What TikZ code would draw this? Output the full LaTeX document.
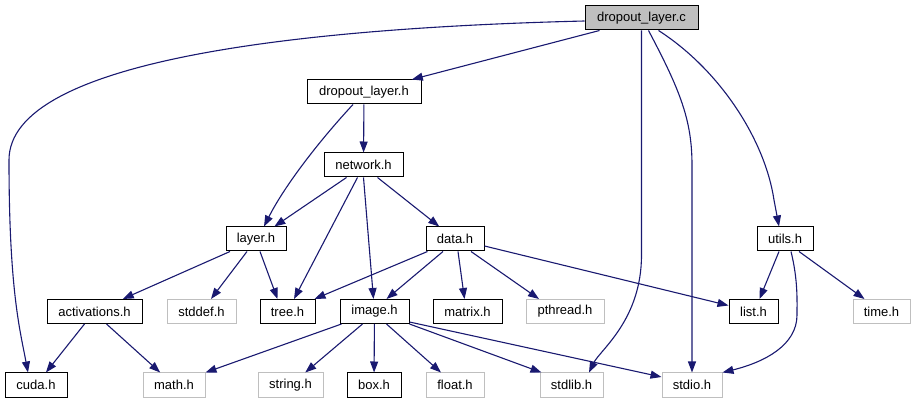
\documentclass[tikz,border=0pt]{standalone}
\usepackage{fontspec}
\setmainfont{Liberation Sans}
\usetikzlibrary{arrows.meta}
\definecolor{edgec}{HTML}{191970}
\definecolor{sysgray}{HTML}{BFBFBF}
\definecolor{rootfill}{HTML}{BFBFBF}
\begin{document}
\begin{tikzpicture}[x=1pt,y=-1pt,
  nd/.style={draw=black, line width=1pt, minimum height=24pt, inner sep=0pt,
    font=\fontsize{13}{15}\selectfont, anchor=center},
  sysnd/.style={nd, draw=sysgray},
  rootnd/.style={nd, fill=rootfill},
  e/.style={draw=edgec, line width=1.1pt, -{Triangle[length=11pt,width=8pt]}}]
\useasboundingbox (0,0) rectangle (916,403);
% nodes
\node[rootnd, minimum width=113pt] (c) at (641.5,18) {dropout\_layer.c};
\node[nd, minimum width=114pt] (dlh) at (364,92) {dropout\_layer.h};
\node[nd, minimum width=79pt] (net) at (363.5,165) {network.h};
\node[nd, minimum width=60pt] (layer) at (256,239) {layer.h};
\node[nd, minimum width=58pt] (data) at (455,239) {data.h};
\node[nd, minimum width=56pt] (utils) at (785,239) {utils.h};
\node[nd, minimum width=95pt] (act) at (94.5,311.5) {activations.h};
\node[sysnd, minimum width=69pt] (stddef) at (201.5,311.5) {stddef.h};
\node[nd, minimum width=55pt] (tree) at (287.5,311.5) {tree.h};
\node[nd, minimum width=69pt] (image) at (374.5,311.5) {image.h};
\node[nd, minimum width=69pt] (matrix) at (467.5,311.5) {matrix.h};
\node[sysnd, minimum width=78pt] (pthread) at (565,311.5) {pthread.h};
\node[nd, minimum width=49pt] (list) at (753.5,311.5) {list.h};
\node[sysnd, minimum width=57pt] (time) at (881.5,311.5) {time.h};
\node[nd, minimum width=62pt] (cuda) at (36,385) {cuda.h};
\node[sysnd, minimum width=62pt] (math) at (174,385) {math.h};
\node[sysnd, minimum width=65pt] (string) at (290.5,385) {string.h};
\node[nd, minimum width=54pt] (box) at (374,385) {box.h};
\node[sysnd, minimum width=58pt] (float) at (455,385) {float.h};
\node[sysnd, minimum width=63pt] (stdlib) at (571.5,385) {stdlib.h};
\node[sysnd, minimum width=60pt] (stdio) at (692,385) {stdio.h};
% edges from dropout_layer.c
\draw[e] ([xshift=-42pt]c.south) -- (dlh);
\draw[e] ([yshift=-3pt]c.west) .. controls (300,28) and (9,60) .. (9,160)
   .. controls (9,290) and (20,330) .. ([xshift=-8pt]cuda.north);
\draw[e] (c.south) -- (641.5,255) .. controls (641.5,320) and (600,350) .. ([xshift=17.5pt]stdlib.north);
\draw[e] ([xshift=7pt]c.south) .. controls (680,90) and (692,120) .. (692,165) -- (stdio.north);
\draw[e] ([xshift=17pt]c.south) .. controls (720,70) and (765,140) .. (774,200) -- ([xshift=-6pt]utils.north);
% dropout_layer.h
\draw[e] (dlh) -- (net);
\draw[e] ([xshift=-11pt]dlh.south) .. controls (320,140) and (285,185) .. ([xshift=8pt]layer.north);
% network.h
\draw[e] ([xshift=-17pt]net.south) -- (layer);
\draw[e] ([xshift=-6pt]net.south) -- (tree);
\draw[e] (net.south) -- (image);
\draw[e] ([xshift=14pt]net.south) -- (data);
% layer.h
\draw[e] ([xshift=-26pt]layer.south) -- (act);
\draw[e] ([xshift=-9pt]layer.south) -- (stddef);
\draw[e] ([xshift=4pt]layer.south) -- ([xshift=-10pt]tree.north);
% data.h
\draw[e] ([xshift=2pt]data.south west) -- ([xshift=-1pt]tree.north east);
\draw[e] ([xshift=-12pt]data.south) -- ([xshift=12pt]image.north);
\draw[e] ([xshift=3pt]data.south) -- ([xshift=-3pt]matrix.north);
\draw[e] ([xshift=16pt]data.south) -- ([xshift=-26pt]pthread.north);
\draw[e] ([yshift=-7pt]data.east) -- ([yshift=6pt]list.west);
% utils.h
\draw[e] ([xshift=-6pt]utils.south) -- ([xshift=6pt]list.north);
\draw[e] ([xshift=14pt]utils.south) -- ([xshift=-17pt]time.north);
\draw[e] ([xshift=6pt]utils.south) .. controls (798,280) and (797,300) .. (797,315)
   .. controls (797,345) and (765,362) .. (stdio.north east);
% activations.h
\draw[e] ([xshift=-10pt]act.south) -- (cuda);
\draw[e] ([xshift=12pt]act.south) -- (math);
% image.h
\draw[e] ([xshift=2pt]image.south west) -- (math.north east);
\draw[e] ([xshift=-12pt]image.south) -- (string);
\draw[e] (image) -- (box);
\draw[e] ([xshift=12pt]image.south) -- (float);
\draw[e] (image.south east) -- ([xshift=-30pt]stdlib.north);
\draw[e] ([yshift=2pt]image.south east) -- ([yshift=8pt]stdio.west);
\end{tikzpicture}
\end{document}
